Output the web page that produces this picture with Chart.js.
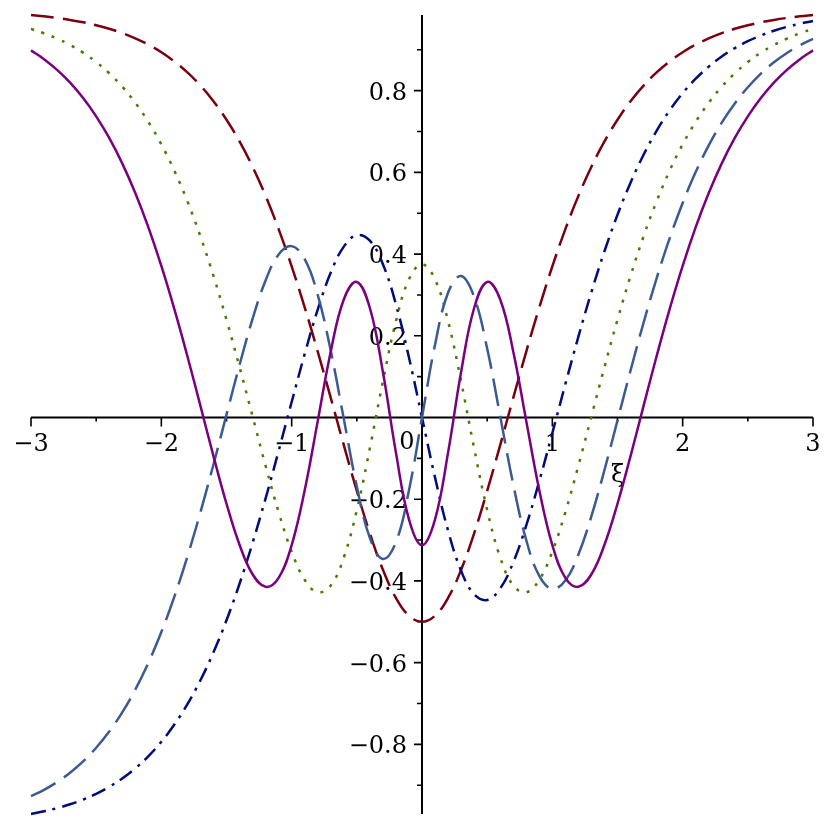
<!DOCTYPE html>
<html>
<head>
<meta charset="utf-8">
<script src="https://cdn.jsdelivr.net/npm/chart.js@4.4.1/dist/chart.umd.min.js"></script>
<style>
  body { margin: 0; background: #fff; }
</style>
</head>
<body>
<canvas id="plot" width="830" height="830"></canvas>
<script>
// sample positions along the horizontal axis
var xs = [-3,-2.9,-2.8,-2.7,-2.6,-2.5,-2.4,-2.3,-2.2,-2.1,-2,-1.9,-1.8,-1.7,-1.6,-1.5,-1.4,-1.3,-1.2,-1.1,-1,-0.9,-0.8,-0.7,-0.6,-0.5,-0.4,-0.3,-0.2,-0.1,
          0,0.1,0.2,0.3,0.4,0.5,0.6,0.7,0.8,0.9,1,1.1,1.2,1.3,1.4,1.5,1.6,1.7,1.8,1.9,2,2.1,2.2,2.3,2.4,2.5,2.6,2.7,2.8,2.9,3];

// maroon, dashed
var curveA = [0.9852,0.9819,0.978,0.9732,0.9673,0.9601,0.9514,0.9409,0.9281,0.9127,0.894,0.8716,0.8447,0.8125,0.7742,0.7289,0.6758,0.6138,0.5425,0.4612,0.37,0.2696,0.1614,0.0479,-0.0674,-0.1797,-0.2835,-0.3727,-0.4416,-0.4851,
              -0.5,-0.4851,-0.4416,-0.3727,-0.2835,-0.1797,-0.0674,0.0479,0.1614,0.2696,0.37,0.4612,0.5425,0.6138,0.6758,0.7289,0.7742,0.8125,0.8447,0.8716,0.894,0.9127,0.9281,0.9409,0.9514,0.9601,0.9673,0.9732,0.978,0.9819,0.9852];
// navy, dash-dot
var curveB = [-0.9705,-0.964,-0.9562,-0.9467,-0.9351,-0.921,-0.904,-0.8836,-0.8588,-0.8292,-0.7938,-0.7516,-0.7017,-0.6431,-0.5748,-0.4962,-0.4069,-0.3071,-0.1979,-0.0817,0.038,0.1556,0.264,0.3547,0.4183,0.4465,0.4328,0.3752,0.2769,0.147,
              0,-0.147,-0.2769,-0.3752,-0.4328,-0.4465,-0.4183,-0.3547,-0.264,-0.1556,-0.038,0.0817,0.1979,0.3071,0.4069,0.4962,0.5748,0.6431,0.7017,0.7516,0.7938,0.8292,0.8588,0.8836,0.904,0.921,0.9351,0.9467,0.9562,0.964,0.9705];
// green, dotted
var curveC = [0.9511,0.9404,0.9275,0.9119,0.893,0.8701,0.8426,0.8098,0.7704,0.7237,0.6686,0.604,0.5292,0.4433,0.3465,0.2394,0.1236,0.0028,-0.1181,-0.2315,-0.3282,-0.3973,-0.4279,-0.411,-0.3426,-0.2263,-0.0752,0.0883,0.2355,0.3382,
              0.375,0.3382,0.2355,0.0883,-0.0752,-0.2263,-0.3426,-0.411,-0.4279,-0.3973,-0.3282,-0.2315,-0.1181,0.0028,0.1236,0.2394,0.3465,0.4433,0.5292,0.604,0.6686,0.7237,0.7704,0.8098,0.8426,0.8701,0.893,0.9119,0.9275,0.9404,0.9511];
// steel blue, long dash
var curveD = [-0.927,-0.9113,-0.8923,-0.8693,-0.8417,-0.8084,-0.7687,-0.7218,-0.666,-0.6008,-0.5252,-0.4384,-0.3405,-0.232,-0.115,0.007,0.1285,0.2414,0.3355,0.3989,0.4195,0.3878,0.3002,0.1634,-0.0034,-0.1689,-0.2948,-0.3464,-0.3052,-0.1783,
              0,0.1783,0.3052,0.3464,0.2948,0.1689,0.0034,-0.1634,-0.3002,-0.3878,-0.4195,-0.3989,-0.3355,-0.2414,-0.1285,-0.007,0.115,0.232,0.3405,0.4384,0.5252,0.6008,0.666,0.7218,0.7687,0.8084,0.8417,0.8693,0.8923,0.9113,0.927];
// purple, solid
var curveE = [0.8986,0.877,0.8508,0.8196,0.782,0.7371,0.6842,0.622,0.5494,0.4659,0.371,0.2652,0.15,0.0284,-0.0945,-0.2111,-0.3116,-0.3837,-0.4144,-0.3925,-0.3122,-0.1781,-0.0089,0.1615,0.2889,0.3317,0.268,0.1115,-0.0859,-0.2492,
              -0.3125,-0.2492,-0.0859,0.1115,0.268,0.3317,0.2889,0.1615,-0.0089,-0.1781,-0.3122,-0.3925,-0.4144,-0.3837,-0.3116,-0.2111,-0.0945,0.0284,0.15,0.2652,0.371,0.4659,0.5494,0.622,0.6842,0.7371,0.782,0.8196,0.8508,0.877,0.8986];

// axis ticks
var xMajor = [-3, -2, -1, 0, 1, 2, 3];
var xMinor = [-2.5, -1.5, -0.5, 0.5, 1.5, 2.5];
var yMajor = [-0.8, -0.6, -0.4, -0.2, 0.2, 0.4, 0.6, 0.8];
var yMinor = [-0.9, -0.7, -0.5, -0.3, -0.1, 0.1, 0.3, 0.5, 0.7, 0.9];
var axisLabel = 'ξ';

function pts(ys) {
    return xs.map(function (x, i) { return { x: x, y: ys[i] }; });
}
function fmt(v) {
    return String(v).replace('-', '\u2212');
}

var labelFont = '24px "DejaVu Serif"';

var mapleAxes = {
    id: 'mapleAxes',
    beforeDatasetsDraw: function (chart) {
        var ctx = chart.ctx, sx = chart.scales.x, sy = chart.scales.y, a = chart.chartArea;
        var x0 = sx.getPixelForValue(0), y0 = sy.getPixelForValue(0);
        ctx.save();
        ctx.strokeStyle = '#000';
        ctx.fillStyle = '#000';
        ctx.lineWidth = 2;
        ctx.beginPath();
        ctx.moveTo(a.left, y0); ctx.lineTo(a.right, y0);
        ctx.moveTo(x0, a.top); ctx.lineTo(x0, a.bottom);
        ctx.stroke();

        ctx.lineWidth = 1.6;
        ctx.beginPath();
        xMajor.forEach(function (v) { var p = sx.getPixelForValue(v); ctx.moveTo(p, y0); ctx.lineTo(p, y0 + 9); });
        xMinor.forEach(function (v) { var p = sx.getPixelForValue(v); ctx.moveTo(p, y0); ctx.lineTo(p, y0 + 4); });
        yMajor.forEach(function (v) { var p = sy.getPixelForValue(v); ctx.moveTo(x0, p); ctx.lineTo(x0 - 8, p); });
        yMinor.forEach(function (v) { var p = sy.getPixelForValue(v); ctx.moveTo(x0, p); ctx.lineTo(x0 - 5, p); });
        ctx.stroke();

        ctx.font = labelFont;
        ctx.textBaseline = 'alphabetic';
        xMajor.forEach(function (v) {
            var p = sx.getPixelForValue(v);
            if (v === 0) {
                ctx.textAlign = 'center';
                ctx.fillText('0', x0 - 15, y0 + 31);
            } else {
                ctx.textAlign = 'center';
                ctx.fillText(fmt(v), p, y0 + 33);
            }
        });
        ctx.textAlign = 'right';
        yMajor.forEach(function (v) {
            var p = sy.getPixelForValue(v);
            ctx.fillText(fmt(v), x0 - 15, p + 9);
        });

        ctx.textAlign = 'center';
        ctx.textBaseline = 'middle';
        ctx.fillText(axisLabel, sx.getPixelForValue(1.5), sy.getPixelForValue(-0.142));
        ctx.restore();
    }
};

var plotChart = new Chart(document.getElementById('plot').getContext('2d'), {
    type: 'line',
    data: {
        datasets: [
            { data: pts(curveA), borderColor: '#7A0010', borderDash: [23, 9], order: 5 },
            { data: pts(curveB), borderColor: '#000C7A', borderDash: [15, 7, 3, 7], order: 4 },
            { data: pts(curveC), borderColor: '#4E7A00', borderDash: [3, 8], order: 3 },
            { data: pts(curveD), borderColor: '#3C5A92', borderDash: [28, 10], order: 2 },
            { data: pts(curveE), borderColor: '#7A007C', order: 1 }
        ]
    },
    options: {
        responsive: false,
        animation: false,
        layout: { padding: { left: 31, right: 17, top: 15, bottom: 16 } },
        elements: {
            line: { borderWidth: 2.5, tension: 0.4, fill: false },
            point: { radius: 0 }
        },
        datasets: { line: { clip: 6 } },
        plugins: { legend: { display: false }, tooltip: { enabled: false } },
        scales: {
            x: { type: 'linear', min: -3, max: 3, display: false },
            y: { min: -0.9705, max: 0.9852, display: false }
        }
    },
    plugins: [mapleAxes]
});
</script>
</body>
</html>
